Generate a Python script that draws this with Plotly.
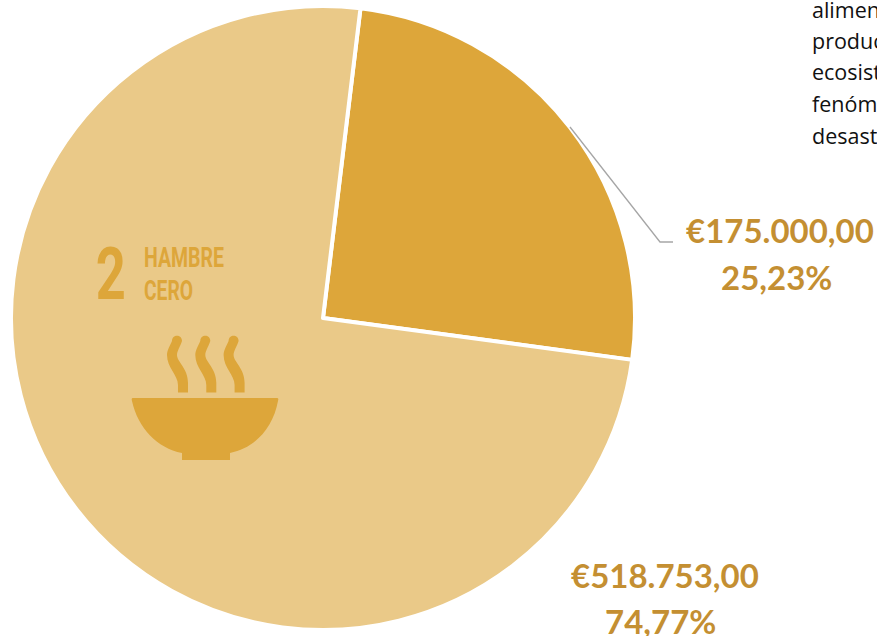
import plotly.graph_objects as go

W, H = 877, 636
segments = ["Otros", "Hambre cero"]
values = [175000.00, 518753.00]
value_labels = ["€175.000,00", "€518.753,00"]
percent_labels = ["25,23%", "74,77%"]
slice_colors = ["#DDA63A", "#EAC988"]
note_lines = ["alimentos", "productos", "ecosistemas", "fenómenos", "desastres"]
label_color = "#C48F32"
icon_color = "#DDA63A"


def px(x):
    return x / W


def py(y):
    return 1 - y / H


def path(cmds):
    out = []
    for c in cmds:
        if isinstance(c, str):
            out.append(c)
        else:
            out.append(f"{px(c[0]):.5f},{py(c[1]):.5f}")
    return " ".join(out)


fig = go.Figure(go.Pie(
    labels=segments, values=values, sort=False, direction="clockwise",
    rotation=6.9, textinfo="none", hoverinfo="label+value+percent",
    marker=dict(colors=slice_colors, line=dict(color="#FFFFFF", width=4)),
    domain=dict(x=[11 / W, 635 / W], y=[1 - 630 / H, 1 - 6 / H]),
    showlegend=False,
))

shapes = []
# leader line
shapes.append(dict(type="path", xref="paper", yref="paper",
                   path=path(["M", (570, 127), "L", (660, 242), "L", (673, 242)]),
                   line=dict(color="#A6A6A6", width=1.3), fillcolor="rgba(0,0,0,0)"))
# bowl
shapes.append(dict(type="path", xref="paper", yref="paper",
                   path=path(["M", (133, 398), "L", (277, 398), "Q", (279, 398), (278, 401),
                              "C", (273, 428), (255, 448), (230, 453), "L", (230, 460), "L", (182, 460),
                              "L", (182, 453), "C", (157, 448), (138, 428), (132, 401),
                              "Q", (131, 398), (133, 398), "Z"]),
                   line=dict(width=0), fillcolor=icon_color))
# steam
for dx in (0, 28.3, 56.6):
    def P(x, y):
        return (x + dx, y)
    shapes.append(dict(type="path", xref="paper", yref="paper",
                       path=path(["M", P(172, 341), "C", P(172, 334), P(182, 334), P(182, 341),
                                  "C", P(180, 347), P(177, 351), P(177, 355),
                                  "C", P(177, 362), P(188, 368), P(188, 383),
                                  "L", P(188, 392.5), "L", P(178, 392.5), "L", P(178, 385),
                                  "C", P(178, 375), P(167, 368), P(167, 355),
                                  "C", P(167, 350), P(170, 346), P(172, 341), "Z"]),
                       line=dict(width=0), fillcolor=icon_color))

annotations = []


def text(x, y, s, size, color, family, anchor="center", bold=False):
    annotations.append(dict(
        xref="paper", yref="paper", x=px(x), y=py(y), text=f"<b>{s}</b>" if bold else s,
        showarrow=False, xanchor=anchor, yanchor="middle", align=anchor,
        font=dict(size=size, color=color, family=family), borderpad=0, borderwidth=0,
    ))


lab = "Lato"
text(780, 230, value_labels[0], 33, label_color, lab, bold=True)
text(776, 277, percent_labels[0], 33, label_color, lab, bold=True)
text(665, 575, value_labels[1], 33, label_color, lab, bold=True)
text(660, 621, percent_labels[1], 33, label_color, lab, bold=True)

for i, line in enumerate(note_lines):
    text(812, 9 + i * 31.5, line, 21.5, "#111111", "Open Sans", anchor="left")

narrow = "Roboto"
text(110, 274, "2", 72, icon_color, narrow, bold=True)
text(144, 258, "HAMBRE", 27, icon_color, narrow, anchor="left", bold=True)
text(144, 291, "CERO", 27, icon_color, narrow, anchor="left", bold=True)

fig.update_layout(
    width=W, height=H, autosize=False,
    margin=dict(l=0, r=0, t=0, b=0),
    paper_bgcolor="#FFFFFF", plot_bgcolor="#FFFFFF",
    shapes=shapes, annotations=annotations,
)

condense = """
document.body.style.margin='0';document.body.style.overflow='hidden';
var fit={'HAMBRE':80,'CERO':49,'2':30};
document.querySelectorAll('.annotation text').forEach(function(t){
  var w=fit[t.textContent];
  if(w){t.setAttribute('textLength',w);t.setAttribute('lengthAdjust','spacingAndGlyphs');}
});
"""
fig.write_html("out.html", config={"displayModeBar": False},
               default_width=f"{W}px", default_height=f"{H}px",
               post_script=condense)
